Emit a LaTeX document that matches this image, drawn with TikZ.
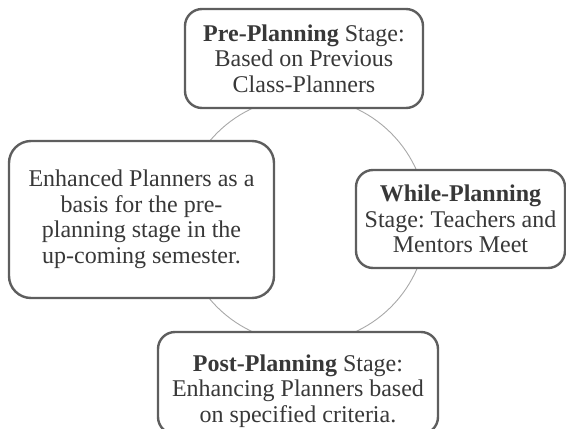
\documentclass[tikz,border=0pt]{standalone}
\usepackage{fontspec}
\setmainfont{Liberation Serif}
\usetikzlibrary{positioning}
\frenchspacing

\definecolor{boxgray}{HTML}{5E5E5E}
\definecolor{inkgray}{HTML}{383838}
\definecolor{ringgray}{HTML}{A8A8A8}

\begin{document}
\begin{tikzpicture}[x=1pt,y=-1pt]
    \tikzset{
        stage/.style = {rectangle, draw=boxgray, fill=white, line width=2.4pt, rounded corners=17pt, align=center, text=inkgray, inner sep=0pt, font=\fontsize{24}{25.5}\selectfont},
        ring/.style = {draw=ringgray, line width=0.9pt},
    }
    \useasboundingbox (0,0) rectangle (566,429);

    \coordinate (hub) at (304,220);
    \draw[ring] (hub) circle (123);

    \node[stage, minimum width=238pt, minimum height=99pt](pre) at (304,58.5){\textbf{Pre-Planning} Stage:\\ Based on Previous\\ Class-Planners};

    \node[stage, minimum width=209pt, minimum height=98pt](while) at (460.5,219){\textbf{While-Planning}\\ Stage: Teachers and\\ Mentors Meet};

    \node[stage, minimum width=280pt, minimum height=102pt](post) at (298,383){\rule{0pt}{33pt}\textbf{Post-Planning} Stage:\\ Enhancing Planners based\\ on specified criteria.};

    \node[stage, minimum width=265pt, minimum height=157pt, rounded corners=22pt](enh) at (141.5,219.5){Enhanced Planners as a\\ basis for the pre-\\ planning stage in the\\ up-coming semester.};

\end{tikzpicture}
\end{document}
